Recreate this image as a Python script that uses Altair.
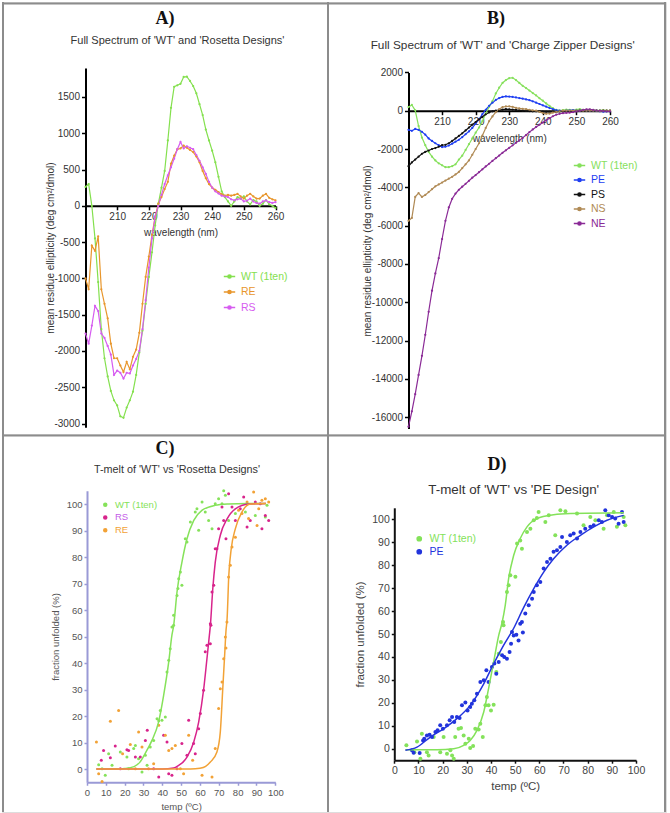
import altair as alt
import pandas as pd

FONT = "Liberation Sans"
SERIF = "Liberation Serif"
FRAME_COLOR = "#8c8c8c"

# ---------------- CD spectra (mean residue ellipticity, deg cm2/dmol) ----------------
WAVELENGTH = list(range(200, 261))

A_NAMES = ["WT (1ten)", "RE", "RS"]
A_COLORS = ["#84e04e", "#e8962c", "#d65cf0"]
A_WT = [260, 300, 0, -450, -1050, -1700, -2100, -2350, -2550, -2680, -2750, -2900, -2920,
        -2780, -2680, -2560, -2330, -2020, -1720, -1350, -980, -640, -270, 30,
        250, 480, 900, 1350, 1640, 1660, 1680, 1775, 1780, 1720, 1650, 1550, 1400, 1250,
        1050, 900, 760, 600, 400, 200, 120, 60, 0, 60, 120, 100, 130, 60, 20, 80, 60,
        0, 30, 80, 20, 0, -30]
A_RE = [-1000, -1150, -550, -620, -420, -1150, -1350, -1550, -1900, -2100, -2100, -2200,
        -2290, -2150, -2250, -2080, -1980, -1750, -1350, -980, -700, -400, -150, 30,
        120, 230, 330, 580, 690, 780, 790, 830, 800, 770, 740, 680, 600, 480, 380, 300,
        250, 220, 190, 160, 140, 150, 140, 150, 165, 130, 100, 140, 165, 130, 100, 100,
        140, 165, 110, 90, 75]
A_RS = [-1760, -1900, -1650, -1380, -1450, -1760, -1820, -1930, -2050, -2330, -2270, -2300,
        -2380, -2300, -2310, -2200, -2110, -2000, -1700, -1300, -850, -450, -150, 0,
        150, 300, 420, 530, 650, 780, 880, 790, 820, 800, 780, 700, 620, 530, 440, 330,
        250, 200, 170, 140, 130, 120, 90, 75, 90, 100, 60, 70, 100, 60, 40, 30, 60, 75,
        50, 40, 50]

B_NAMES = ["WT (1ten)", "PE", "PS", "NS", "NE"]
B_COLORS = ["#86e05c", "#1f3ff2", "#111111", "#b08a55", "#8a2a96"]
B_WT = [190, 300, 20, -800, -1400, -1800, -2150, -2400, -2600, -2750, -2850, -2950, -2950,
        -2900, -2800, -2550, -2350, -2050, -1750, -1450, -1150, -880, -550, -150, 200,
        500, 900, 1200, 1450, 1600, 1700, 1720, 1600, 1450, 1300, 1180, 1050, 920, 800,
        650, 520, 380, 250, 130, 40, 0, 30, 60, 40, 20, 60, 80, 40, 20, 50, 30, 0, 20,
        30, 10, 0]
B_PE = [-1000, -1050, -950, -1000, -1100, -1250, -1450, -1580, -1700, -1800, -1900, -1880,
        -1820, -1720, -1620, -1520, -1380, -1230, -1080, -900, -680, -450, -180, 50,
        250, 420, 560, 660, 720, 750, 740, 720, 690, 660, 630, 590, 550, 490, 420, 350,
        280, 210, 140, 80, 30, 0, -20, 0, 20, 30, 10, 0, 20, 10, 0, 10, 0, -30, -50,
        -40, -30]
B_PS = [-2900, -2700, -2550, -2400, -2250, -2150, -2080, -2000, -1950, -1880, -1800, -1780,
        -1700, -1580, -1450, -1320, -1180, -1030, -880, -730, -590, -450, -320, -190,
        -90, -30, 0, 30, 60, 80, 70, 60, 40, 20, 0, -10, -20, -30, -30, -40, -50, -60,
        -60, -50, -50, -40, -40, -30, -30, -20, -10, 0, 0, 10, 0, 0, 0, -10, 0, 0, 0]
B_NS = [-5750, -5600, -4500, -4300, -4500, -4400, -4250, -4100, -3950, -3850, -3750, -3650,
        -3550, -3450, -3330, -3200, -3000, -2800, -2600, -2300, -2000, -1700, -1300, -900,
        -550, -300, -80, 80, 190, 220, 230, 200, 150, 120, 100, 80, 50, 20, 0, -60, -120,
        -160, -150, -100, -60, -30, 0, 0, 10, 0, 0, 10, 0, 0, 0, 0, 0, -10, 0, 0, 0]
B_NE = [-16500, -15700, -14800, -13800, -12800, -11700, -10500, -9400, -8500, -7700, -6700,
        -5750, -5050, -4600, -4330, -4130, -3970, -3820, -3660, -3500, -3360, -3210, -3060,
        -2910, -2770, -2620, -2480, -2340, -2200, -2070, -1940, -1810, -1680, -1550, -1420,
        -1270, -1120, -980, -850, -730, -620, -500, -390, -290, -210, -160, -130, -110,
        -100, -70, -40, 0, 40, 70, 70, 40, 10, 0, -10, -30, -30]

# ---------------- thermal melts (temp degC, fraction unfolded %) ----------------
C_NAMES = ["WT (1ten)", "RS", "RE"]
C_COLORS = ["#86e25a", "#d8248c", "#f2a236"]
C_LABEL_COLORS = ["#86e25a", "#c45ce8", "#f2a236"]
C_WT = [(6.2, 1.6), (8.0, 0.1), (9.7, -2.4), (11.5, 5.8), (13.3, 1.4), (17.7, 6.4),
        (21.2, 4.5), (22.1, 0.1), (24.8, 7.7), (25.7, 8.9), (27.4, 3.9), (29.2, -1.1),
        (31.0, 5.2), (31.9, 1.4), (33.6, 8.3), (35.4, 10.8), (37.2, 19.0), (38.1, 18.2),
        (38.9, 22.1), (39.8, 18.4), (41.6, 19.6), (42.5, 36.6), (43.4, 41.0), (44.2, 45.4),
        (46.0, 54.2), (45.1, 53.6), (46.0, 58.0), (47.8, 65.5), (48.3, 68.1), (48.7, 71.8),
        (49.6, 74.3), (50.4, 69.3), (52.2, 86.9), (53.1, 85.7), (54.9, 93.2), (57.5, 97.0),
        (58.4, 98.2), (59.3, 90.1), (61.1, 100.8), (62.8, 97.0), (64.6, 93.8), (66.4, 90.7),
        (68.1, 100.1), (69.9, 102.0), (71.7, 100.1), (72.6, 105.0), (73.5, 103.3),
        (75.2, 93.8), (78.8, 96.4), (84.1, 97.0), (89.4, 95.7), (94.7, 95.1), (95.6, 99.5)]
C_RS = [(7.6, 3.3), (8.8, 7.0), (12.4, 4.2), (15.0, 8.7), (17.7, 0.1), (21.2, 7.3),
        (22.1, 7.0), (25.7, 4.5), (28.3, 4.5), (31.0, 10.8), (32.0, 14.6), (35.4, 0.1),
        (38.1, -3.0), (40.7, 12.7), (42.5, 10.2), (43.4, -1.8), (45.1, -2.4), (47.8, 0.1),
        (50.4, 9.6), (53.1, 5.2), (54.0, 18.4), (56.6, 9.6), (57.5, 5.8), (59.3, 15.2),
        (60.2, 20.9), (61.9, 29.7), (62.8, 44.2), (63.7, 46.7), (65.5, 47.3), (65.8, 54.2),
        (65.5, 54.8), (66.4, 66.8), (67.3, 69.3), (68.1, 83.1), (69.0, 83.1), (69.9, 90.7),
        (71.7, 98.9), (72.6, 93.8), (73.8, 86.9), (75.2, 103.9), (77.0, 98.9), (78.8, 93.8),
        (81.4, 98.2), (83.2, 102.6), (85.0, 91.3), (86.7, 93.8), (89.4, 100.8), (92.0, 100.1),
        (92.9, 90.7), (94.7, 95.7), (96.5, 93.8)]
C_RE = [(5.0, 10.2), (6.2, -1.8), (8.0, -4.7), (12.4, 18.0), (16.8, 22.1), (18.9, 5.8),
        (23.0, 9.2), (25.7, 0.1), (27.4, 14.0), (29.2, 8.3), (32.7, 0.1), (35.4, 2.0),
        (38.1, 16.5), (41.6, 12.7), (43.4, 7.0), (45.1, 7.7), (46.9, 8.9), (49.6, 0.1),
        (51.3, -1.8), (54.0, 12.7), (56.1, 3.3), (61.1, -2.4), (66.4, -3.0), (68.1, 7.7),
        (69.9, 22.8), (70.8, 30.3), (71.7, 32.8), (72.6, 41.6), (73.5, 49.8), (73.8, 45.7),
        (74.3, 55.5), (75.2, 72.5), (76.1, 76.9), (77.0, 83.8), (78.8, 87.5), (80.5, 97.6),
        (82.3, 96.4), (85.0, 100.8), (85.8, 94.5), (88.5, 104.5), (90.3, 91.9), (91.2, 98.2),
        (92.9, 101.4), (94.7, 102.0), (96.5, 100.8)]
C_FIT_WT = [(5, 0), (10, 0), (15, 0), (20, 0.2), (25, 0.9), (28, 2.5), (31, 6.0), (34.5, 10.8),
            (38, 17.7), (40.7, 27.8), (43.4, 40.4), (45.1, 50.5), (46, 54), (47.8, 66.8),
            (50.4, 78), (53.1, 86.9), (56.7, 93.8), (61, 97.6), (68, 99.5), (75, 100),
            (85, 100.2), (95, 100.2)]
C_FIT_RS = [(5, 0), (20, 0), (40, 0), (46, 0.4), (48.7, 1.4), (51, 2.6), (53.1, 4.5),
            (56.7, 10.2), (59.3, 17.7), (62, 30.3), (63.7, 41.6), (65, 50.5), (65.5, 54),
            (66.8, 68), (68.1, 78), (70.8, 88.2), (74.4, 94.4), (78.8, 98.2), (85.9, 100),
            (95, 100.2)]
C_FIT_RE = [(5, 0), (20, 0), (40, 0), (55, 0), (60, 0.3), (63, 1.0), (65.5, 2.6), (69, 6.4),
            (70.8, 14), (72.1, 30.3), (73.1, 42.9), (73.8, 52), (74.4, 56.7), (75.3, 73),
            (76.6, 83.1), (78.8, 90.7), (82.3, 97), (86.7, 100), (95, 100.2)]

D_NAMES = ["WT (1ten)", "PE"]
D_COLORS = ["#84e25a", "#2234dc"]
D_WT = [(5.0, 1.5), (8.3, -1.5), (9.4, 3.2), (10.8, -4.4), (11.4, 6.5), (13.5, -1.5),
        (14.2, -2.9), (16.3, 5.1), (19.0, -1.5), (20.4, 5.1), (21.8, -2.2), (23.2, -0.7),
        (23.9, -2.9), (24.6, -4.4), (25.2, 5.1), (26.6, 8.7), (27.6, 9.0), (28.7, 5.8),
        (29.4, 2.2), (30.8, 4.4), (31.4, 0.3), (32.6, 1.2), (33.5, 8.7), (34.9, 8.4),
        (35.6, 10.9), (36.6, 5.1), (37.7, 18.9), (38.3, 22.5), (39.0, 18.9), (40.0, 16.7),
        (41.1, 19.2), (42.2, 33.4), (43.2, 41.4), (44.1, 46.5), (45.0, 55.2), (45.2, 53.8),
        (46.6, 68.3), (47.3, 71.2), (48.0, 75.6), (50.1, 74.9), (50.8, 89.4), (52.1, 90.8),
        (52.8, 87.2), (54.9, 94.5), (56.3, 95.9), (57.7, 99.6), (59.0, 100.6), (59.7, 103.2),
        (62.5, 98.8), (63.9, 101.7), (66.6, 93.0), (68.7, 103.9), (70.8, 103.5), (75.6, 102.5),
        (78.3, 97.4), (81.1, 101.0), (83.2, 99.6), (86.6, 95.9), (88.0, 101.7), (90.8, 103.2),
        (92.1, 96.7), (94.9, 101.0), (95.6, 97.4)]
D_PE = [(7.3, -0.7), (8.0, -1.7), (10.5, -1.9), (11.9, 3.6), (12.4, 4.4), (13.5, 5.8),
        (14.6, 6.1), (15.6, 5.1), (17.0, 7.3), (17.9, 8.0), (19.0, 10.2), (20.1, 8.7),
        (21.8, 10.2), (22.9, 12.4), (23.9, 13.8), (24.8, 11.6), (25.9, 13.8), (27.0, 13.4),
        (28.0, 18.9), (29.4, 20.1), (30.3, 16.7), (31.4, 18.2), (32.1, 19.6), (33.1, 21.1),
        (34.2, 24.0), (35.6, 29.1), (37.0, 29.8), (38.1, 34.2), (39.0, 29.1), (40.4, 35.6),
        (41.4, 37.1), (42.2, 32.7), (43.2, 37.8), (44.6, 40.7), (45.5, 40.0), (46.6, 39.2),
        (47.7, 42.2), (48.3, 45.8), (49.4, 49.4), (50.5, 49.7), (51.4, 47.2), (52.1, 54.5),
        (53.2, 50.6), (48.7, 50.9), (52.8, 55.2), (54.2, 58.9), (55.6, 62.5), (57.0, 65.4),
        (57.7, 68.3), (59.0, 71.2), (60.4, 72.7), (61.8, 78.5), (63.2, 81.4), (64.6, 82.8),
        (65.9, 85.8), (67.3, 86.5), (68.7, 87.9), (69.4, 92.3), (71.4, 90.1), (72.8, 93.0),
        (74.2, 93.8), (75.6, 91.6), (77.0, 94.5), (79.0, 95.9), (81.1, 96.7), (82.5, 97.4),
        (84.6, 99.6), (85.9, 98.8), (87.3, 103.9), (88.7, 101.7), (90.1, 101.0), (91.4, 100.3),
        (92.8, 98.1), (94.2, 103.2), (94.9, 98.8)]
D_FIT_WT = [(4.6, -0.4), (17.7, -0.4), (24.6, 0), (28.7, 1.5), (31.4, 3.6), (34.2, 8.0),
            (37, 16), (39, 26.2), (41.1, 37.8), (43.2, 49.4), (44.6, 55), (45.9, 62.5),
            (47.3, 74.1), (49.4, 84.3), (52.1, 91.6), (54.9, 96.7), (59, 100.3), (65.9, 102),
            (72.8, 102.5), (95, 102.8)]
D_FIT_PE = [(4.6, -0.7), (9.4, 0.7), (14.9, 5.1), (20.4, 8.7), (25.9, 13.1), (31.4, 18.9),
            (37, 28.3), (41.1, 37.0), (45.2, 45.0), (49.4, 52.5), (53.5, 61.5), (57.7, 69.8),
            (61.8, 77), (65.9, 82.8), (71.4, 88.7), (77, 93), (82.5, 96.7), (88, 99.6),
            (94.9, 101.7)]

# legend swatch for the spectra: a short line with a dot in the middle
LINE_DOT = "M-1,0H1M-0.28,0A0.28,0.28,0,1,1,0.28,0A0.28,0.28,0,1,1,-0.28,0Z"
PLAIN = "'' + datum.value"


def label_fill(names, colors):
    expr = "'#333333'"
    for n, c in reversed(list(zip(names, colors))):
        expr = f"datum.value === '{n}' ? '{c}' : {expr}"
    return alt.ExprRef(expr)


def one_row():
    return pd.DataFrame({"k": [0]})


def frame(w, h, right=False):
    base = alt.Chart(one_row())
    parts = [
        base.mark_rule(color=FRAME_COLOR, strokeWidth=2).encode(
            x=alt.value(1), y=alt.value(0), y2=alt.value(h)),
        base.mark_rule(color=FRAME_COLOR, strokeWidth=2).encode(
            x=alt.value(0), x2=alt.value(w), y=alt.value(1.5)),
    ]
    if right:
        parts.append(base.mark_rule(color=FRAME_COLOR, strokeWidth=2).encode(
            x=alt.value(w - 1), y=alt.value(0), y2=alt.value(h)))
    return parts


def label(text, x, y, size, font=FONT, weight="normal", color="#333333"):
    return alt.Chart(one_row()).mark_text(
        font=font, fontSize=size, fontWeight=weight, color=color, align="center",
        baseline="middle").encode(x=alt.value(x), y=alt.value(y), text=alt.value(text))


def spectrum_panel(key, w, h, names, colors, series, x_range, y_domain, y_range, y_step,
                   heading, heading_xy, subtitle, subtitle_xy, subtitle_size,
                   legend_xy, legend_gap, y_title_x, x_title_pad, right=False):
    rows = []
    for name, vals in zip(names, series):
        for nm, v in zip(WAVELENGTH, vals):
            rows.append({"nm": nm, key: v, "series_" + key: name})
    df = pd.DataFrame(rows)
    zero_px = y_range[0] + (0 - y_domain[0]) / (y_domain[1] - y_domain[0]) * (y_range[1] - y_range[0])
    lo = -((-y_domain[0]) // y_step) * y_step
    y_values = list(range(int(lo), int(y_domain[1]) + 1, y_step))
    common = dict(grid=False, domainColor="#000000", domainWidth=2, tickColor="#000000",
                  tickWidth=1.5, tickSize=4, labelFontSize=10, labelColor="#333333",
                  labelPadding=2, titleFontSize=10, titleFontWeight="normal",
                  titleColor="#333333", labelFont=FONT, titleFont=FONT, labelExpr=PLAIN,
                  labelOverlap=False, labelFlush=False)
    x_axis = alt.Axis(values=list(range(210, 261, 10)), offset=zero_px - h,
                      title="wavelength (nm)", titlePadding=x_title_pad, **common)
    y_axis = alt.Axis(values=y_values, offset=-x_range[0],
                      title="mean residue ellipticity (deg cm²/dmol)",
                      titleX=y_title_x - x_range[0] + 5, **common)
    lines = alt.Chart(df).mark_line(
        strokeWidth=1.2, point=alt.OverlayMarkDef(filled=True, size=5)
    ).encode(
        x=alt.X("nm:Q", scale=alt.Scale(domain=[200, 260], range=x_range, nice=False, zero=False),
                axis=x_axis),
        y=alt.Y(f"{key}:Q", scale=alt.Scale(domain=y_domain, range=y_range, nice=False, zero=False),
                axis=y_axis),
        color=alt.Color(f"series_{key}:N", sort=names,
                        scale=alt.Scale(domain=names, range=colors),
                        legend=alt.Legend(title=None, orient="none", legendX=legend_xy[0],
                                          legendY=legend_xy[1], symbolType=LINE_DOT,
                                          symbolSize=130, symbolStrokeWidth=1.5,
                                          labelFontSize=10.5, labelFont=FONT, rowPadding=legend_gap,
                                          padding=0, labelOffset=5,
                                          labelColor=label_fill(names, colors))),
    )
    layers = frame(w, h, right=right) + [
        label(heading, heading_xy[0], heading_xy[1], 18, font=SERIF, weight="bold", color="#111111"),
        label(subtitle, subtitle_xy[0], subtitle_xy[1], subtitle_size),
        lines,
    ]
    return alt.layer(*layers).properties(width=w, height=h)


def melt_panel(key, w, h, names, colors, label_colors, points, fits, x_range, y_range,
               heading, heading_xy, subtitle, subtitle_xy, subtitle_size,
               legend_xy, legend_gap, axis_color, label_color, tick_font, title_font,
               point_size, legend_font, legend_symbol, y_title_x, x_title_pad, right=False):
    prow, frow = [], []
    for name, pts in zip(names, points):
        for t, v in pts:
            prow.append({"temp": t, key: v, "series_" + key: name})
    for name, pts in zip(names, fits):
        for t, v in pts:
            frow.append({"temp": t, key: v, "series_" + key: name})
    pdf, fdf = pd.DataFrame(prow), pd.DataFrame(frow)
    common = dict(grid=False, domainColor=axis_color, domainWidth=2, tickColor=axis_color,
                  tickWidth=1.5, tickSize=3, labelFontSize=tick_font, labelColor=label_color,
                  titleFontSize=title_font, titleFontWeight="normal", titleColor=label_color,
                  labelFont=FONT, titleFont=FONT, labelExpr=PLAIN, labelOverlap=False,
                  labelFlush=False, labelPadding=2)
    x_axis = alt.Axis(values=list(range(0, 101, 10)), offset=y_range[0] - h, title="temp (ºC)",
                      titlePadding=x_title_pad, **common)
    y_axis = alt.Axis(values=list(range(0, 101, 10)), offset=-x_range[0],
                      title="fraction unfolded (%)",
                      titleX=y_title_x - x_range[0] + title_font / 2, **common)
    xs = alt.Scale(domain=[0, 100], range=x_range, nice=False, zero=False)
    ys = alt.Scale(domain=[-5, 105], range=y_range, nice=False, zero=False)
    # scatter first so its colour legend takes precedence over the fitted curves
    dots = alt.Chart(pdf).mark_circle(size=point_size, opacity=1).encode(
        x=alt.X("temp:Q", scale=xs, axis=x_axis),
        y=alt.Y(f"{key}:Q", scale=ys, axis=y_axis),
        color=alt.Color(f"series_{key}:N", scale=alt.Scale(domain=names, range=colors), sort=names,
                        legend=alt.Legend(title=None, orient="none", legendX=legend_xy[0],
                                          legendY=legend_xy[1], symbolType="circle",
                                          symbolSize=legend_symbol, labelFontSize=legend_font,
                                          labelFont=FONT, rowPadding=legend_gap, padding=0,
                                          labelOffset=5,
                                          labelColor=label_fill(names, label_colors))),
    )
    fit = alt.Chart(fdf).mark_line(strokeWidth=1.5, interpolate="monotone").encode(
        x=alt.X("temp:Q", scale=xs, axis=x_axis),
        y=alt.Y(f"{key}:Q", scale=ys, axis=y_axis),
        stroke=alt.Stroke(f"series_{key}:N", scale=alt.Scale(domain=names, range=colors),
                          legend=None),
    )
    layers = frame(w, h, right=right) + [
        label(heading, heading_xy[0], heading_xy[1], 18, font=SERIF, weight="bold", color="#111111"),
        label(subtitle, subtitle_xy[0], subtitle_xy[1], subtitle_size),
        dots, fit,
    ]
    return alt.layer(*layers).properties(width=w, height=h)


panel_a = spectrum_panel(
    "ellipticity_a", 325, 432, A_NAMES, A_COLORS, [A_WT, A_RE, A_RS],
    x_range=[83.5, 273.5], y_domain=[-3050, 1900], y_range=[425.2, 65.9], y_step=500,
    heading="A)", heading_xy=(163, 17), subtitle="Full Spectrum of 'WT' and 'Rosetta Designs'",
    subtitle_xy=(175.5, 39), subtitle_size=11, legend_xy=(221, 268), legend_gap=3.5,
    y_title_x=48, x_title_pad=6)

panel_b = spectrum_panel(
    "ellipticity_b", 339, 432, B_NAMES, B_COLORS, [B_WT, B_PE, B_PS, B_NS, B_NE],
    x_range=[81.5, 283], y_domain=[-16600, 2000], y_range=[426.6, 70.4], y_step=2000,
    heading="B)", heading_xy=(169, 17), subtitle="Full Spectrum of 'WT' and 'Charge Zipper Designs'",
    subtitle_xy=(175.7, 43), subtitle_size=11.8, legend_xy=(246, 157), legend_gap=2.5,
    y_title_x=40, x_title_pad=7, right=True)

panel_c = melt_panel(
    "unfolded_c", 325, 378, C_NAMES, C_COLORS, C_LABEL_COLORS, [C_WT, C_RS, C_RE],
    [C_FIT_WT, C_FIT_RS, C_FIT_RE], x_range=[85, 273.3], y_range=[348.25, 56.75],
    heading="C)", heading_xy=(163, 15), subtitle="T-melt of 'WT' vs 'Rosetta Designs'",
    subtitle_xy=(175, 36), subtitle_size=10.8, legend_xy=(98.5, 66), legend_gap=1.7,
    axis_color="#9a9ad6", label_color="#555555", tick_font=9.5, title_font=9.5,
    point_size=9, legend_font=9.5, legend_symbol=9, y_title_x=54, x_title_pad=5)

panel_d = melt_panel(
    "unfolded_d", 339, 378, D_NAMES, D_COLORS, D_COLORS, [D_WT, D_PE],
    [D_FIT_WT, D_FIT_PE], x_range=[67.3, 309], y_range=[326.2, 73.8],
    heading="D)", heading_xy=(170, 31), subtitle="T-melt of 'WT' vs 'PE Design'",
    subtitle_xy=(186.7, 56), subtitle_size=13.4, legend_xy=(87, 99.5), legend_gap=2,
    axis_color="#111111", label_color="#444444", tick_font=10.5, title_font=11.5,
    point_size=16, legend_font=10.5, legend_symbol=18, y_title_x=32.5, x_title_pad=5,
    right=True)

chart = alt.concat(panel_a, panel_b, panel_c, panel_d, columns=2, spacing=0, bounds="flush").resolve_scale(
    x="independent", y="independent", color="independent", stroke="independent"
).resolve_legend(color="independent", stroke="independent").properties(
    padding=0, background="white"
).configure_view(stroke=None).configure(font=FONT)

chart.save("out.html", embed_options={"renderer": "svg", "actions": False})
